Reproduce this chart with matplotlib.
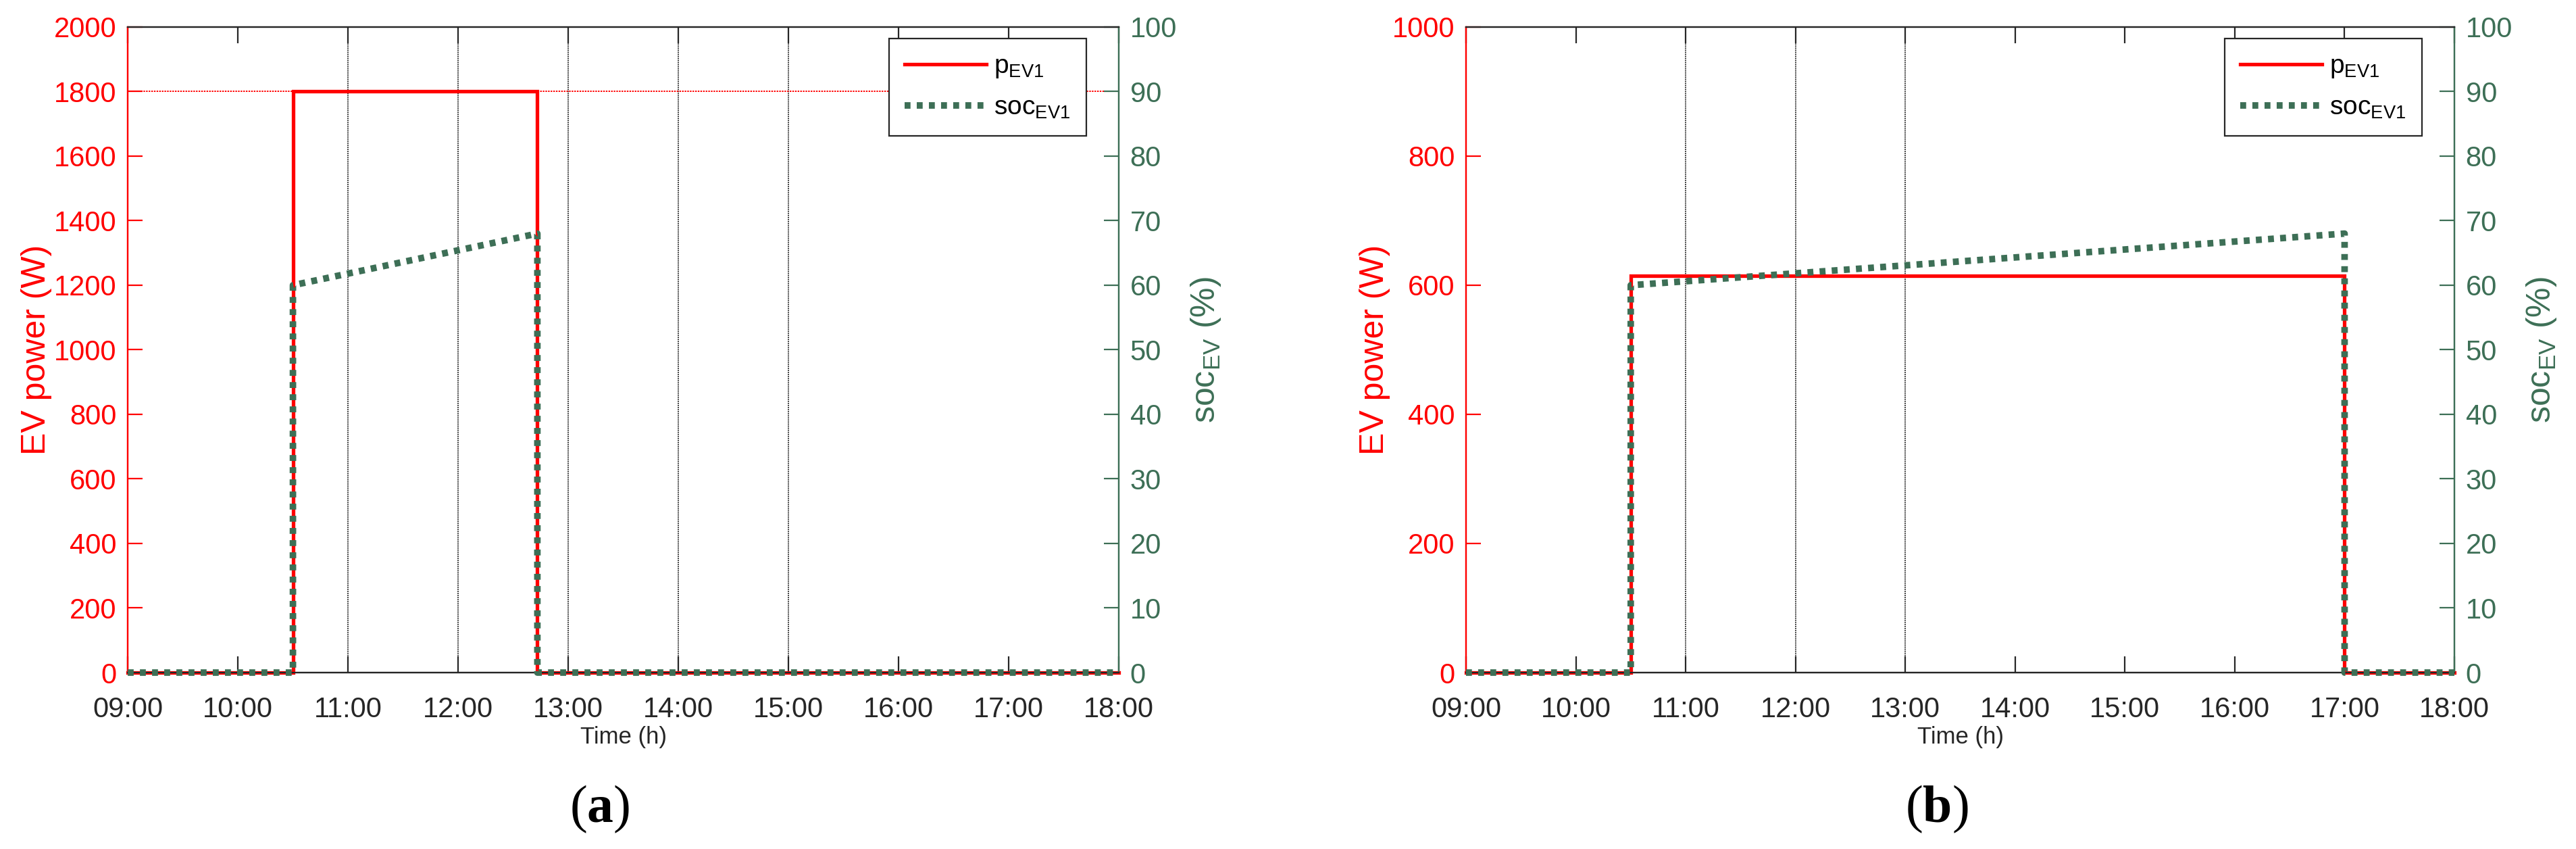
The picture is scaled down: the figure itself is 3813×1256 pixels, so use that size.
import matplotlib
matplotlib.use("Agg")
import matplotlib.pyplot as plt
from matplotlib import font_manager as fm

# ---------------- data ----------------
hours = [9, 10, 11, 12, 13, 14, 15, 16, 17, 18]
hour_labels = ["09:00", "10:00", "11:00", "12:00", "13:00", "14:00", "15:00", "16:00", "17:00", "18:00"]

# panel (a)
t_a = [9.0, 10.5, 10.5, 12.72, 12.72, 18.0]
p_a = [0, 0, 1800, 1800, 0, 0]
soc_a = [0, 0, 60, 68, 0, 0]
vlines_a = [11, 12, 13, 14, 15]

# panel (b)
t_b = [9.0, 10.5, 10.5, 17.0, 17.0, 18.0]
p_b = [0, 0, 615, 615, 0, 0]
soc_b = [0, 0, 60, 68, 0, 0]
vlines_b = [11, 12, 13]

p_max = 1800
ylim_a = (0, 2000)
ylim_b = (0, 1000)
yticks_a = list(range(0, 2001, 200))
yticks_b = list(range(0, 1001, 200))
soc_ticks = list(range(0, 101, 10))

# ---------------- style ----------------
names = {f.name for f in fm.fontManager.ttflist}
narrow = "Liberation Sans Narrow" if "Liberation Sans Narrow" in names else "Liberation Sans"
plt.rcParams["font.family"] = [narrow, "Liberation Sans", "DejaVu Sans"]
plt.rcParams["mathtext.fontset"] = "custom"
plt.rcParams["mathtext.rm"] = "Liberation Serif"
plt.rcParams["mathtext.bf"] = "Liberation Serif:bold"

RED = "#ff0000"
GREEN = "#3d6f56"
DARK = "#262626"

fig = plt.figure(figsize=(38.13, 12.56), dpi=100)

def panel(rect, t, p, soc, vl, ylim, yticks, letter, letter_x):
    ax = fig.add_axes(rect)
    ax2 = ax.twinx()
    ax.set_xlim(9, 18)
    ax.set_ylim(*ylim)
    ax2.set_ylim(0, 100)
    # vertical marker lines
    for v in vl:
        ax.axvline(v, color="#000000", lw=1.1, ls=(0, (1.2, 0.8)), zorder=1)
    ax.axhline(p_max, color=RED, lw=1.4, ls=(0, (1.2, 0.8)), zorder=1)
    ax.plot(t, p, color=RED, lw=3.8, solid_joinstyle="miter", clip_on=False, zorder=3,
            label=r"$\mathregular{p_{EV1}}$")
    l2, = ax2.plot(t, soc, color=GREEN, lw=7, ls=(0, (0.9, 0.95)), dash_capstyle="butt",
                   clip_on=False, zorder=4, label=r"$\mathregular{soc_{EV1}}$")
    ax.set_xticks(hours)
    ax.set_xticklabels(hour_labels)
    ax.set_yticks(yticks)
    ax2.set_yticks(soc_ticks)
    ax.tick_params(axis="x", direction="in", length=17, width=1.6, color=DARK,
                   labelcolor=DARK, labelsize=30, pad=25, top=True)
    ax.tick_params(axis="y", direction="in", length=16, width=1.6, color=RED,
                   labelcolor=RED, labelsize=30, pad=12)
    ax2.tick_params(axis="y", direction="in", length=16, width=1.6, color=GREEN,
                    labelcolor=GREEN, labelsize=30, pad=12)
    for a in (ax, ax2):
        for s in a.spines.values():
            s.set_linewidth(1.6)
        a.spines["top"].set_color(DARK)
        a.spines["bottom"].set_color(DARK)
        a.spines["left"].set_color(RED)
        a.spines["right"].set_color(GREEN)
    ax.set_ylabel("EV power (W)", color=RED, fontsize=36, family="Liberation Sans",
                  va="center", ha="center")
    ax.yaxis.set_label_coords(-0.092, 0.5)
    ax2.set_ylabel(r"soc$_{\mathregular{EV}}$ (%)", color=GREEN, fontsize=36,
                   family="Liberation Sans", va="center", ha="center")
    ax2.yaxis.set_label_coords(1.088, 0.5)
    ax.set_xlabel("Time (h)", color=DARK, fontsize=25, va="center", ha="center")
    ax.xaxis.set_label_coords(0.5, -0.0995)
    h1, lab1 = ax.get_legend_handles_labels()
    leg = ax2.legend(h1 + [l2], lab1 + [l2.get_label()], loc="upper right",
                     bbox_to_anchor=(0.967, 0.982), borderaxespad=0, fontsize=28,
                     handlelength=3.1, handletextpad=0.3, labelspacing=0.6,
                     borderpad=0.6, fancybox=False, framealpha=1, edgecolor=DARK)
    leg.get_frame().set_linewidth(1.6)
    ax2.set_zorder(ax.get_zorder() + 1)
    ax.patch.set_visible(True)
    ax2.patch.set_visible(False)
    fig.text(letter_x, 0.047, "(" + r"$\mathbf{" + letter + "}$" + ")",
             family="Liberation Serif", fontsize=56, ha="center", va="center")
    return ax, ax2

panel([0.0496, 0.2078, 0.3847, 0.7604], t_a, p_a, soc_a, vlines_a, ylim_a, yticks_a, "a", 888 / 3813)
panel([0.5691, 0.2078, 0.3837, 0.7604], t_b, p_b, soc_b, vlines_b, ylim_b, yticks_b, "b", 2867 / 3813)

fig.savefig("out.png", dpi=100, facecolor="white")
